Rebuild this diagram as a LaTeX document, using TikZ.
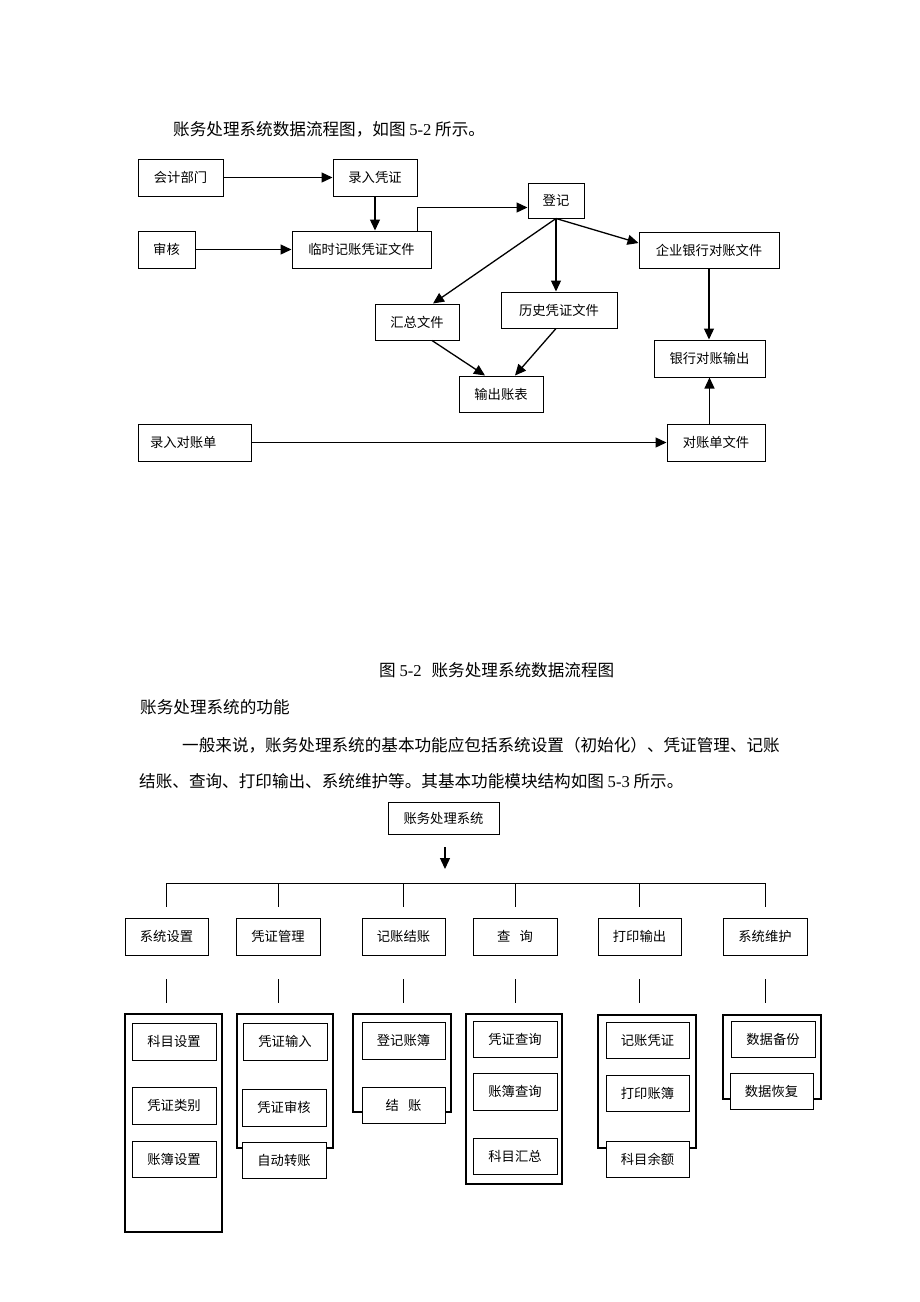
\documentclass[tikz,border=0pt]{standalone}
\usepackage{fontspec}
\setmainfont{Liberation Serif}
\newfontfamily\cjk{Noto Sans CJK SC}
\usetikzlibrary{arrows.meta}
\newcommand\myboxfont{\cjk\fontsize{13.3}{16}\selectfont}
\newcommand\mybodyfont{\cjk\fontsize{16.6}{20}\selectfont}
\begin{document}
\begin{tikzpicture}[x=1pt,y=-1pt,
  bx/.style={draw, fill=white, line width=1pt, inner sep=0pt, font=\myboxfont},
  cont/.style={draw, line width=1.1pt, inner sep=0pt},
  arr/.style={line width=1.3pt, -{Triangle[length=11pt,width=10pt]}},
  ln/.style={line width=1pt},
  txt/.style={anchor=west, inner sep=0pt, font=\mybodyfont}]
\fill[white] (0,0) rectangle (920,1302);
\useasboundingbox (0,0) rectangle (920,1302);

% ---------- texts ----------
\node[txt] (t1) at (173,129) {账务处理系统数据流程图，如图 {\rmfamily 5-2} 所示。};
\node[txt] (cap) at (379,670) {图 {\rmfamily 5-2}\hspace{0.6em}账务处理系统数据流程图};
\node[txt] (hd) at (140,707) {账务处理系统的功能};
\node[txt] (p1) at (182,745) {一般来说，账务处理系统的基本功能应包括系统设置（初始化）、凭证管理、记账};
\node[txt] (p2) at (139,781) {结账、查询、打印输出、系统维护等。其基本功能模块结构如图 {\rmfamily 5-3} 所示。};

% ---------- data flow diagram ----------
\node[bx, minimum width=85, minimum height=37] (kj) at (180.5,177.5) {会计部门};
\node[bx, minimum width=84, minimum height=37] (lr) at (375,177.5) {录入凭证};
\node[bx, minimum width=57, minimum height=37] (sh) at (166.5,249.5) {审核};
\node[bx, minimum width=139, minimum height=37] (ls) at (361.5,249.5) {临时记账凭证文件};
\node[bx, minimum width=56, minimum height=35] (dj) at (556,200.5) {登记};
\node[bx, minimum width=140, minimum height=36] (qy) at (709,250) {企业银行对账文件};
\node[bx, minimum width=84, minimum height=36] (hz) at (417,322) {汇总文件};
\node[bx, minimum width=116, minimum height=36] (lz) at (559,310) {历史凭证文件};
\node[bx, minimum width=84, minimum height=36] (sc) at (501,394) {输出账表};
\node[bx, minimum width=111, minimum height=37] (yh) at (709.5,358.5) {银行对账输出};
\node[bx, minimum height=37, text width=89pt, inner xsep=12pt, align=left] (ld) at (194.5,442.5) {录入对账单};
\node[bx, minimum width=98, minimum height=37] (dz) at (716,442.5) {对账单文件};

\draw[arr] (kj) -- (lr);
\draw[arr] (lr.south) -- (lr.south |- ls.north);
\draw[arr] (sh) -- (ls);
\draw[arr] ([xshift=-14pt]ls.north east) |- ([yshift=-7pt]dj.west);
\draw[arr] (dj.south) -- ([xshift=16pt]hz.north);
\draw[arr] (dj.south) -- (dj.south |- lz.north);
\draw[arr] (dj.south) -- ([yshift=7pt]qy.west);
\draw[arr] ([xshift=15pt]hz.south) -- ([xshift=-16pt]sc.north);
\draw[arr] ([xshift=-3pt]lz.south) -- ([xshift=14pt]sc.north);
\draw[arr] (qy.south) -- (qy.south |- yh.north);
\draw[arr] (dz.north -| yh.south) -- (yh.south);
\draw[arr] (ld) -- (dz);

% ---------- module structure ----------
\node[bx, minimum width=111, minimum height=32] (root) at (443.5,818) {账务处理系统};
\coordinate (a1) at (445,847);
\coordinate (a2) at (445,869);
\draw[arr] (a1) -- (a2);

\node[bx, minimum width=83, minimum height=37] (m1) at (166.5,936.5) {系统设置};
\node[bx, minimum width=84, minimum height=37] (m2) at (278,936.5) {凭证管理};
\node[bx, minimum width=83, minimum height=37] (m3) at (403.5,936.5) {记账结账};
\node[bx, minimum width=84, minimum height=37] (m4) at (515,936.5) {查\hspace{0.7em}询};
\node[bx, minimum width=83, minimum height=37] (m5) at (639.5,936.5) {打印输出};
\node[bx, minimum width=84, minimum height=37] (m6) at (765,936.5) {系统维护};

\coordinate (hl) at (167,883);
\coordinate (hr) at (765,883);
\draw[ln] (hl) -- (hr);
\foreach \m in {m1,m2,m3,m4,m5,m6}{
  \draw[ln] (\m.north |- hl) -- (\m.north |- 0,907);
  \draw[ln] (\m.south |- 0,979) -- (\m.south |- 0,1003);
}

% containers
\node[cont, minimum width=97, minimum height=218] (c1) at (173.5,1123) {};
\node[cont, minimum width=96, minimum height=134] (c2) at (285,1081) {};
\node[cont, minimum width=98, minimum height=98] (c3) at (402,1063) {};
\node[cont, minimum width=96, minimum height=170] (c4) at (514,1099) {};
\node[cont, minimum width=98, minimum height=133] (c5) at (647,1081.5) {};
\node[cont, minimum width=98, minimum height=84] (c6) at (772,1057) {};

% inner boxes
\node[bx, minimum width=84, minimum height=37] (s11) at (174,1041.5) {科目设置};
\node[bx, minimum width=84, minimum height=37] (s12) at (174,1105.5) {凭证类别};
\node[bx, minimum width=84, minimum height=36] (s13) at (174,1159) {账簿设置};

\node[bx, minimum width=84, minimum height=37] (s21) at (285,1041.5) {凭证输入};
\node[bx, minimum width=84, minimum height=37] (s22) at (284,1107.5) {凭证审核};
\node[bx, minimum width=84, minimum height=36] (s23) at (284,1160) {自动转账};

\node[bx, minimum width=83, minimum height=37] (s31) at (403.5,1040.5) {登记账簿};
\node[bx, minimum width=83, minimum height=36] (s32) at (403.5,1105) {结\hspace{0.7em}账};

\node[bx, minimum width=84, minimum height=36] (s41) at (515,1039) {凭证查询};
\node[bx, minimum width=84, minimum height=37] (s42) at (515,1091.5) {账簿查询};
\node[bx, minimum width=84, minimum height=36] (s43) at (515,1156) {科目汇总};

\node[bx, minimum width=83, minimum height=36] (s51) at (647.5,1040) {记账凭证};
\node[bx, minimum width=83, minimum height=36] (s52) at (647.5,1093) {打印账簿};
\node[bx, minimum width=83, minimum height=36] (s53) at (647.5,1159) {科目余额};

\node[bx, minimum width=84, minimum height=36] (s61) at (773,1039) {数据备份};
\node[bx, minimum width=83, minimum height=36] (s62) at (771.5,1091) {数据恢复};
\end{tikzpicture}
\end{document}
